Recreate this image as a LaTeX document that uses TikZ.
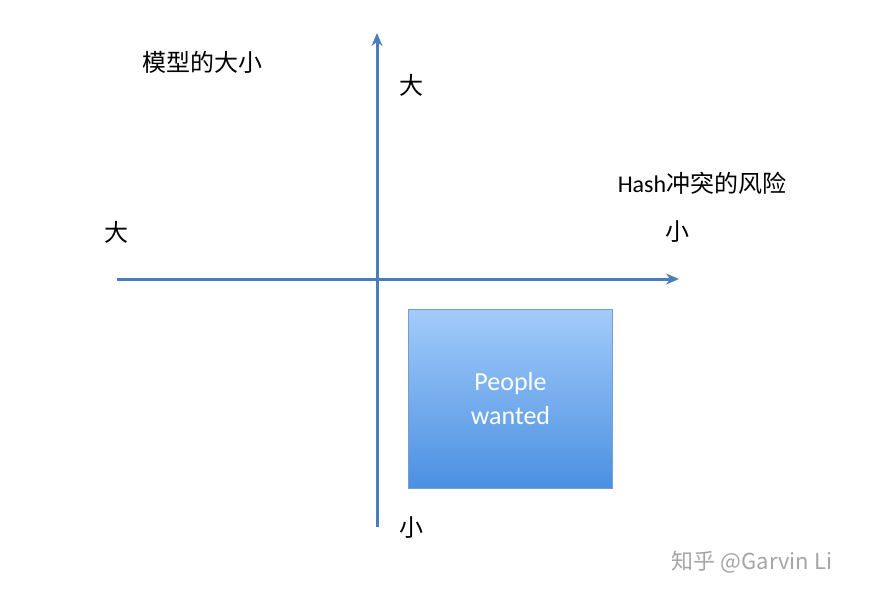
\documentclass[tikz,border=0pt]{standalone}
\usepackage{fontspec}
\setmainfont{Carlito}
\newfontfamily\cjk{Noto Sans CJK SC}
\usetikzlibrary{arrows.meta}
\definecolor{axisc}{HTML}{4A7EBB}
\definecolor{boxtop}{HTML}{A3CBFA}
\definecolor{boxbot}{HTML}{4A90E2}
\definecolor{boxedge}{HTML}{7A9CC8}
\tikzset{
  axis/.style={draw=axisc, line width=3pt, -{Stealth[length=13pt,width=11pt]}},
  lbl/.style={font=\cjk\fontsize{24}{28}\selectfont, text=black},
}
\begin{document}
\begin{tikzpicture}[x=1pt,y=-1pt]
\useasboundingbox (0,0) rectangle (869,597);
\fill[white] (0,0) rectangle (869,597);
\coordinate (vb) at (377,527);
\coordinate (vt) at (377,33);
\coordinate (hl) at (117,279);
\coordinate (hr) at (679,279);
\draw[axis] (vb) -- (vt);
\draw[axis] (hl) -- (hr);
\node[draw=boxedge, line width=1pt, top color=boxtop, bottom color=boxbot,
  minimum width=204pt, minimum height=179pt, anchor=north west,
  text=white, align=center, font=\fontsize{26}{34}\selectfont] (box) at (408,309) {People\\wanted};
\node[lbl] (ylab) at (202,62) {模型的大小};
\node[lbl] (ytop) at (411,85) {大};
\node[lbl] (ybot) at (411,528) {小};
\node[lbl] (xlab) at (702,183) {\fontspec{Carlito}Hash\cjk 冲突的风险};
\node[lbl] (xr) at (677,232) {小};
\node[lbl] (xl) at (116,232) {大};
\node[font=\cjk\fontsize{22}{26}\selectfont, text=gray!70] (wm) at (752,562) {知乎 @Garvin Li};
\end{tikzpicture}
\end{document}
